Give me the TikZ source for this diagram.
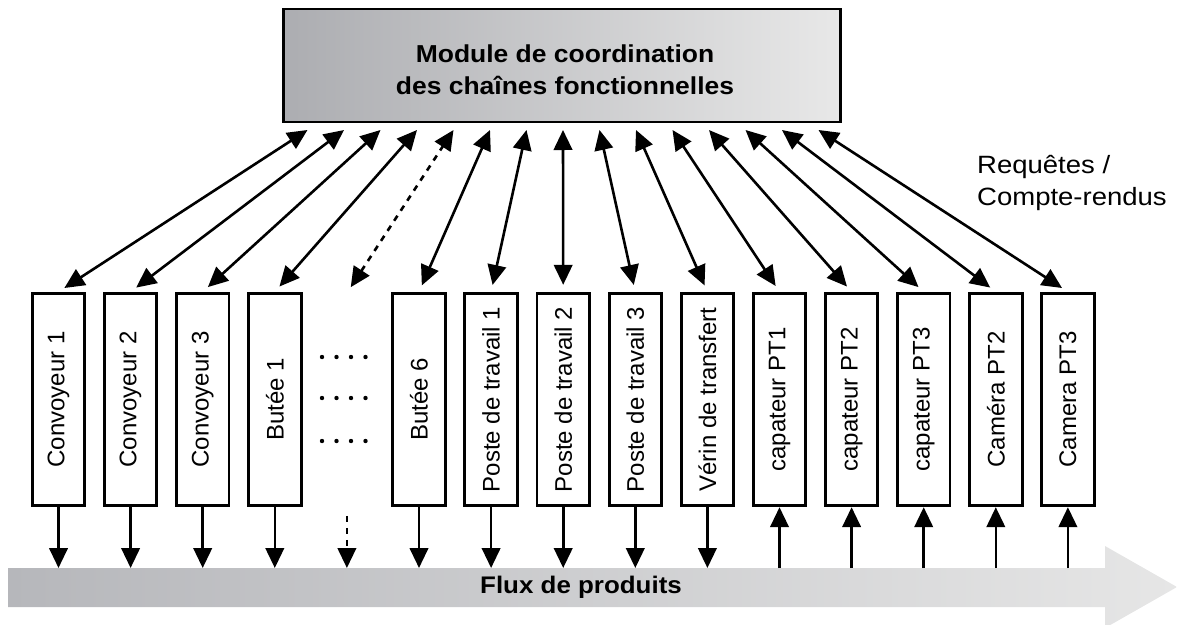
\documentclass[tikz,border=0pt]{standalone}
\usepackage{fontspec}
\setmainfont{Liberation Sans}[BoldFeatures={FakeStretch=1.08}]
\newfontfamily\widefont[FakeStretch=1.1]{Liberation Sans}
\usetikzlibrary{arrows.meta}

\tikzset{
    >={Triangle[length=20pt,width=18.5pt]},
    chainbox/.style={draw, line width=2.9pt, fill=white, minimum width=52.5pt, minimum height=212.5pt, inner sep=0pt, font=\fontsize{24}{28}\selectfont},
    link/.style={line width=2.6pt},
}

\begin{document}
\begin{tikzpicture}[x=1pt, y=-1pt]
    % Define colors
    \definecolor{coorddark}{RGB}{172,173,177}
    \definecolor{coordlight}{RGB}{232,232,232}
    \definecolor{fluxdark}{RGB}{182,183,187}
    \definecolor{fluxlight}{RGB}{230,230,230}

    \useasboundingbox (0,0) rectangle (1177,624);

    % Product flow arrow
    \shade[left color=fluxdark, right color=fluxlight] (8,568) -- (1105,568) -- (1105,546) -- (1177,587) -- (1105,628) -- (1105,607) -- (8,607) -- cycle;
    \coordinate (bandtop) at (0,568);
    \node[font=\bfseries\fontsize{24}{28}\selectfont] (flux) at (581,587) {Flux de produits};

    % Coordination module
    \node[draw, line width=2.9pt, left color=coorddark, right color=coordlight, minimum width=557pt, minimum height=113pt] (coord) at (562,65.5) {};
    \node[align=center, font=\bfseries\fontsize{24.5}{32}\selectfont] (title) at (565,70) {Module de coordination\\des chaînes fonctionnelles};

    % Functional chains
    \foreach \i/\txt in {0/Convoyeur 1, 1/Convoyeur 2, 2/Convoyeur 3, 3/Butée 1, 5/Butée 6, 6/Poste de travail 1, 7/Poste de travail 2, 8/Poste de travail 3, 9/Vérin de transfert, 10/capateur PT1, 11/capateur PT2, 12/capateur PT3, 13/Caméra PT2, 14/Camera PT3}
        \node[chainbox] (b\i) at (58.5+72.1*\i,399.5) {\rotatebox{90}{\txt}};

    % Omitted chains (dots)
    \node[minimum width=52.5pt, minimum height=212.5pt] (b4) at (346.9,399.5) {};
    \foreach \y in {357,398,441}
        \foreach \x in {0,1,2,3}
            \fill (322+14.5*\x,\y) circle (2.2pt);

    % Requests / reports
    \foreach \i in {0,...,14}
        \coordinate (t\i) at (307.5+36.5*\i,130);
    \foreach \i in {0,1,2,3,5,6,7,8,9,10,11,12,13,14}
        \draw[link, <->, shorten <=7pt] (b\i.north) -- (t\i);
    \draw[link, <->, dash pattern=on 6pt off 6pt, shorten <=7pt] (b4.north) -- (t4);
    \node[anchor=north west, inner sep=0pt, align=left, font=\widefont\fontsize{25}{32}\selectfont] (req) at (977,155) {Requêtes /\\Compte-rendus};

    % Actuators act on the flow, sensors observe it
    \foreach \i in {0,1,2,3,5,6,7,8,9}
        \draw[link, ->] (b\i.south) -- (b\i.south |- bandtop);
    \draw[link, ->, dash pattern=on 6pt off 6pt] ([yshift=-10pt]b4.south) -- (b4.south |- bandtop);
    \foreach \i in {10,11,12,13,14}
        \draw[link, ->] (b\i.south |- bandtop) -- (b\i.south);
\end{tikzpicture}
\end{document}
